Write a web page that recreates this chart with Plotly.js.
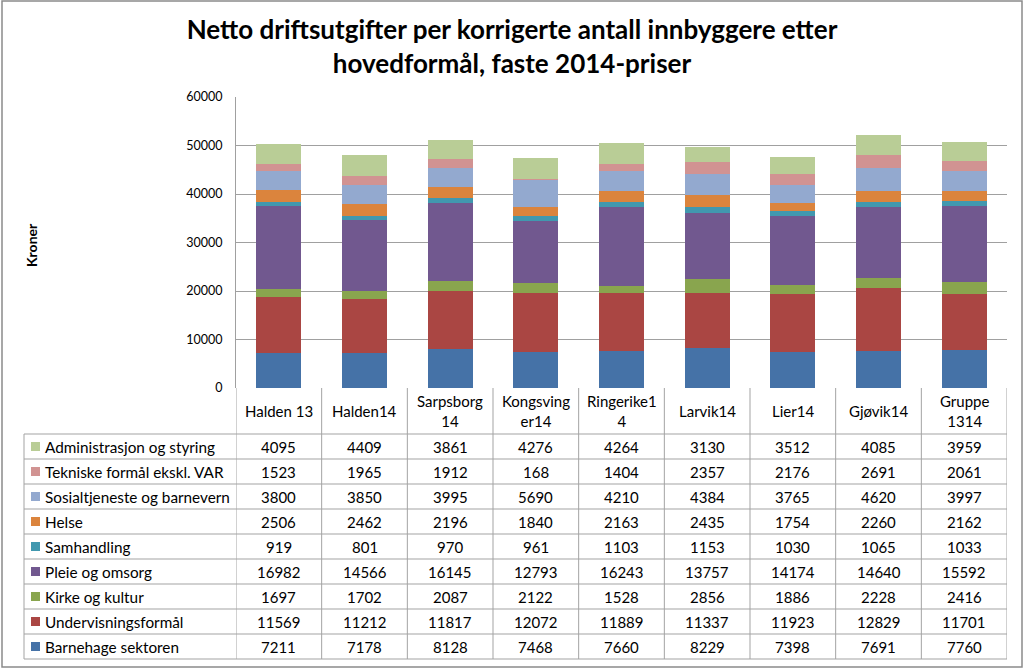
<!DOCTYPE html>
<html>
<head>
<meta charset="utf-8">
<script src="https://cdn.plot.ly/plotly-3.0.1.min.js"></script>
<style>html,body{margin:0;padding:0;background:#fff;}#chart{width:1024px;height:669px;}</style>
</head>
<body>
<div id="chart"></div>
<script>
// ---- data ----
const categories = ['Halden 13','Halden14','Sarpsborg 14','Kongsvinger14','Ringerike14','Larvik14','Lier14','Gjøvik14','Gruppe 1314'];
const categoryLabels = ['Halden 13','Halden14','Sarpsborg<br>14','Kongsving<br>er14','Ringerike1<br>4','Larvik14','Lier14','Gjøvik14','Gruppe<br>1314'];
const seriesNames = ['Barnehage sektoren','Undervisningsformål','Kirke og kultur','Pleie og omsorg','Samhandling','Helse','Sosialtjeneste og barnevern','Tekniske formål ekskl. VAR','Administrasjon og styring'];
const barnehage = [7211,7178,8128,7468,7660,8229,7398,7691,7760];
const undervisning = [11569,11212,11817,12072,11889,11337,11923,12829,11701];
const kirke = [1697,1702,2087,2122,1528,2856,1886,2228,2416];
const pleie = [16982,14566,16145,12793,16243,13757,14174,14640,15592];
const samhandling = [919,801,970,961,1103,1153,1030,1065,1033];
const helse = [2506,2462,2196,1840,2163,2435,1754,2260,2162];
const sosial = [3800,3850,3995,5690,4210,4384,3765,4620,3997];
const tekniske = [1523,1965,1912,168,1404,2357,2176,2691,2061];
const administrasjon = [4095,4409,3861,4276,4264,3130,3512,4085,3959];
const seriesValues = [barnehage, undervisning, kirke, pleie, samhandling, helse, sosial, tekniske, administrasjon];
const colors = ['#4572A7','#AA4643','#89A54E','#71588F','#4198AF','#DB843D','#93A9CF','#D19392','#B9CD96'];
const yTicks = [0,10000,20000,30000,40000,50000,60000];

// ---- layout geometry (pixels) ----
const W = 1024, H = 669;
const px = v => v / W;
const py = v => 1 - v / H;
const plotL = 236, plotR = 1007, plotT = 97, plotB = 388;
const headerB = 434, rowH = 25, tableL = 24;
const font = 'Lato, "Open Sans", sans-serif';
const lineCol = '#a3a3a3';

const traces = seriesNames.map((name, k) => ({
  type: 'bar', name: name, x: categories, y: seriesValues[k],
  marker: {color: colors[k], line: {width: 0}},
  hoverinfo: 'skip'
}));

const shapes = [];
const annotations = [];

// outer chart border
shapes.push({type:'rect', xref:'paper', yref:'paper', x0:px(2), x1:px(1022), y0:py(667), y1:py(1),
  line:{color:'#8a8a8a', width:1.5}});

// table vertical lines at category boundaries
for (let i = 0; i <= categories.length; i++) {
  shapes.push({type:'line', xref:'x', yref:'paper', x0:i-0.5, x1:i-0.5, y0:py(plotB), y1:py(headerB + rowH*seriesNames.length),
    line:{color:lineCol, width:1}});
}
// table left edge
shapes.push({type:'line', xref:'paper', yref:'paper', x0:px(tableL), x1:px(tableL), y0:py(headerB), y1:py(headerB + rowH*seriesNames.length),
  line:{color:lineCol, width:1}});
// table horizontal lines
for (let r = 0; r <= seriesNames.length; r++) {
  const yy = headerB + rowH*r;
  shapes.push({type:'line', xref:'paper', yref:'paper', x0:px(tableL), x1:px(plotR), y0:py(yy), y1:py(yy),
    line:{color:lineCol, width:1}});
}

// category header labels
categoryLabels.forEach((lab, i) => {
  annotations.push({xref:'x', yref:'paper', x:i, y:py((plotB+headerB)/2), text:lab, showarrow:false,
    xanchor:'center', yanchor:'middle', font:{family:font, size:15, color:'#000'}});
});

// table rows (top row = last series)
for (let r = 0; r < seriesNames.length; r++) {
  const k = seriesNames.length - 1 - r;
  const yc = headerB + rowH*r + rowH/2;
  shapes.push({type:'rect', xref:'paper', yref:'paper', x0:px(31), x1:px(40), y0:py(yc+4.5), y1:py(yc-4.5),
    fillcolor:colors[k], line:{width:0}});
  annotations.push({xref:'paper', yref:'paper', x:px(43), y:py(yc), text:seriesNames[k], showarrow:false,
    xanchor:'left', yanchor:'middle', font:{family:font, size:15.3, color:'#000'}});
  seriesValues[k].forEach((v, i) => {
    annotations.push({xref:'x', yref:'paper', x:i, y:py(yc), text:String(v), showarrow:false,
      xanchor:'center', yanchor:'middle', font:{family:font, size:15, color:'#000'}});
  });
}

// y-axis title
annotations.push({xref:'paper', yref:'paper', x:px(31), y:py(245), text:'Kroner', showarrow:false, textangle:-90,
  xanchor:'center', yanchor:'middle', font:{family:font, size:14, color:'#000', weight:'bold'}});

const layout = {
  width: W, height: H,
  margin: {l:0, r:0, t:0, b:0},
  paper_bgcolor: '#fff', plot_bgcolor: '#fff',
  barmode: 'stack', bargap: 0.474,
  showlegend: false,
  title: {text:'Netto driftsutgifter per korrigerte antall innbyggere etter<br>hovedformål, faste 2014-priser',
    x:0.5, xanchor:'center', y:py(39), yanchor:'middle', yref:'container',
    font:{family:font, size:26, color:'#000', weight:'bold'}},
  xaxis: {domain:[px(plotL), px(plotR)], range:[-0.5, categories.length-0.5], showticklabels:false,
    showline:false, showgrid:false, zeroline:false, ticks:'', fixedrange:true, type:'category'},
  yaxis: {domain:[py(plotB), py(plotT)], range:[0,60000], tickvals:yTicks, ticktext:yTicks.map(String),
    showgrid:true, gridcolor:'#a0a0a0', gridwidth:1, zeroline:false, showline:true, linecolor:'#a0a0a0', linewidth:1,
    ticks:'', ticklabelstandoff:10, tickfont:{family:font, size:12.5, color:'#000'}, fixedrange:true},
  shapes: shapes,
  annotations: annotations
};

Plotly.newPlot('chart', traces, layout, {displayModeBar:false, staticPlot:true});
</script>
</body>
</html>
